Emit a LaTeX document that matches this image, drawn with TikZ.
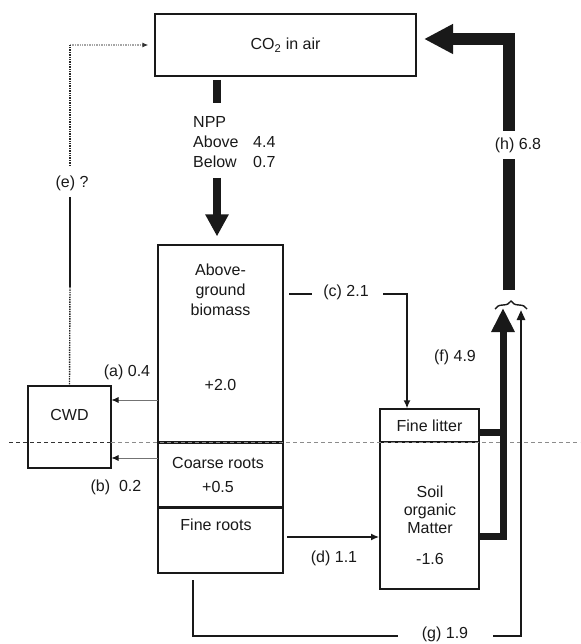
\documentclass[tikz,border=0pt]{standalone}
\usepackage{fontspec}
\setmainfont{Liberation Sans}
\usetikzlibrary{arrows.meta,decorations.pathreplacing}
\begin{document}
\begin{tikzpicture}[x=1pt,y=-1pt,
  box/.style={draw=black!90, line width=1.2pt, fill=white, inner sep=0pt, rectangle},
  txt/.style={font=\fontsize{16}{20}\selectfont, inner sep=1pt, align=center, text=black!90},
  conn/.style={line width=1.3pt, draw=black!90},
  cln/.style={line width=1.7pt, draw=black!90},
  gln/.style={line width=2.7pt, draw=black!90, line join=miter},
  nppln/.style={line width=8pt, draw=black!90},
  hln/.style={line width=12pt, draw=black!90, line join=miter},
  fln/.style={line width=7pt, draw=black!90, line join=miter},
  edark/.style={line width=1.4pt, draw=black!85, dash pattern=on 1.4pt off 1pt},
  elight/.style={line width=1.3pt, draw=black!35, dash pattern=on 1.4pt off 1pt},
  grayarr/.style={line width=0.8pt, draw=black!55, -{Latex[length=7pt,width=6pt,color=black!90]}},
  thickborder/.style={line width=2.6pt, draw=black!90}
]
\useasboundingbox (0,0) rectangle (580,644);

% boxes
\node[box, txt, minimum width=261pt, minimum height=62pt] (co2) at (285.5,45) {CO\textsubscript{2} in air};
\node[box, minimum width=125pt, minimum height=197pt] (bio) at (220.5,343.5) {};
\node[box, minimum width=125pt, minimum height=65pt] (coarse) at (220.5,474.5) {};
\node[box, minimum width=125pt, minimum height=66pt] (fr) at (220.5,540) {};
\node[box, minimum width=83pt, minimum height=82pt] (cwd) at (69.5,427) {};
\node[box, txt, minimum width=99pt, minimum height=33pt] (litter) at (429.5,425.5) {Fine litter};
\node[box, minimum width=99pt, minimum height=147pt] (soil) at (429.5,515.5) {};

\draw[thickborder] (bio.south west) -- (bio.south east);
\draw[thickborder] (coarse.south west) -- (coarse.south east);

% box texts
\node[txt] (biotxt) at (220.5,290) {Above-\\ground\\biomass};
\node[txt] (biov) at (220.5,385) {+2.0};
\node[txt] (coarsetxt) at (218,475) {Coarse roots\\[4pt]+0.5};
\node[txt] (frtxt) at (216,525) {Fine roots};
\node[txt] (cwdtxt) at (69.5,415) {CWD};
\node[txt, font=\fontsize{16}{18}\selectfont] (soiltxt) at (430,510) {Soil\\organic\\Matter};
\node[txt] (soilv) at (430,559) {-1.6};

% dashed ground line
\coordinate (dl) at (9,442);
\coordinate (dm) at (111,442);
\coordinate (dr) at (580,442);
\draw[line width=0.9pt, black!80, dash pattern=on 4pt off 3pt] (dl) -- (dm);
\draw[line width=0.9pt, black!45, dash pattern=on 4pt off 3pt] (dm) -- (dr);

% NPP
\node[txt, align=left, anchor=west] (npp) at (192,142) {NPP\\\makebox[60pt][l]{Above}4.4\\\makebox[60pt][l]{Below}0.7};
\coordinate (n1) at (217,80);
\coordinate (n2) at (217,103);
\coordinate (n3) at (217,178);
\draw[nppln] (n1) -- (n2);
\draw[nppln, -{Triangle[length=22pt,width=22pt]}, shorten >=8pt] (n3) -- (bio.north -| n3);

% (h)
\coordinate (hb) at (509,290);
\coordinate (hc) at (509,39);
\coordinate (hd) at (424,39);
\draw[hln, -{Triangle[length=29pt,width=28pt]}] (hb) -- (hc) -- (hd);
\node[txt, fill=white, inner xsep=2pt, inner ysep=7pt] (hlab) at (518,145) {(h) 6.8};

% (f)
\coordinate (fl) at (478,432);
\coordinate (flx) at (503,432);
\coordinate (fs) at (478,536);
\coordinate (ftip) at (503,308);
\draw[fln] (fl) -- (flx);
\draw[fln, -{Triangle[length=24pt,width=22pt]}] (fs) -| (ftip);
\node[txt] (flab) at (455,357) {(f) 4.9};

% brace
\coordinate (br1) at (495,309);
\coordinate (br2) at (527,309);
\draw[line width=1.4pt, black!90, decorate, decoration={brace, amplitude=8pt}] (br1) -- (br2);

% (g)
\coordinate (g1) at (193,580);
\coordinate (g2) at (193,636);
\coordinate (g3) at (398,636);
\coordinate (g4) at (493,636);
\coordinate (g5) at (521,310);
\node[txt] (glab) at (445,634) {(g) 1.9};
\draw[gln] (g1) -- (g2) -- (g3);
\draw[gln, -{Triangle[length=10pt,width=8pt]}] (g4) -| (g5);

% (c)
\coordinate (c1) at (289,294);
\coordinate (c2) at (312,294);
\coordinate (c3) at (383,294);
\coordinate (cx) at (407,294);
\node[txt] (clab) at (346,292) {(c) 2.1};
\draw[cln] (c1) -- (c2);
\draw[cln, -{Latex[length=8pt,width=7pt]}] (c3) -- (cx) -- (litter.north -| cx);

% (d)
\coordinate (d1) at (287,537);
\coordinate (d2) at (379,537);
\draw[conn, -{Latex[length=8pt,width=7pt]}] (d1) -- (d2);
\node[txt] (dlab) at (334,558) {(d) 1.1};

% (a) and (b)
\coordinate (a1) at (158,400);
\coordinate (a2) at (111.5,400);
\coordinate (b1) at (158,458);
\coordinate (b2) at (111.5,458);
\draw[grayarr] (a1) -- (a2);
\draw[grayarr] (b1) -- (b2);
\node[txt] (alab) at (127,372) {(a) 0.4};
\node[txt] (blab) at (116,487) {(b)\ \ 0.2};

% (e)
\coordinate (e0) at (70,45);
\coordinate (e1) at (70,166);
\coordinate (e2) at (70,197);
\coordinate (e3) at (70,287);
\node[txt] (elab) at (72,183) {(e) ?};
\draw[elight, -{Latex[length=6pt,width=5pt,color=black!80]}, shorten >=6pt] (e0) -- (co2.west);
\draw[edark] (e1) -- (e0);
\draw[conn] (e2) -- (e3);
\draw[edark] (e3) -- (cwd.north);
\end{tikzpicture}
\end{document}
